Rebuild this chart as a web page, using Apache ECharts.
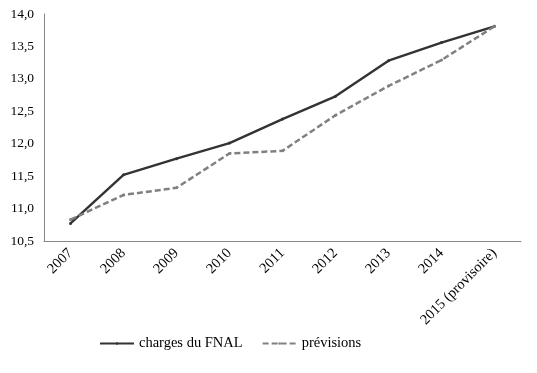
<!DOCTYPE html>
<html><head><meta charset="utf-8">
<script src="https://cdn.jsdelivr.net/npm/echarts@6/dist/echarts.min.js"></script>
<style>html,body{margin:0;padding:0;background:#fff}#c{width:537px;height:373px}</style>
</head><body><div id="c"></div>
<script>
const categories = ['2007','2008','2009','2010','2011','2012','2013','2014','2015 (provisoire)'];
const charges = [10.77, 11.52, 11.77, 12.01, 12.38, 12.73, 13.28, 13.56, 13.81];
const previsions = [10.83, 11.21, 11.32, 11.85, 11.89, 12.44, 12.89, 13.29, 13.81];
const seriesNames = ['charges du FNAL', 'prévisions'];
const font = 'Liberation Serif';
const chart = echarts.init(document.getElementById('c'), null, {renderer:'canvas'});
chart.setOption({
  animation:false,
  grid:{left:44, right:16, top:14, bottom:132, containLabel:false},
  legend:{
    left:94, top:331, itemWidth:34, itemHeight:3, itemGap:19,
    textStyle:{fontFamily:font, fontSize:14.5, color:'#000'},
    data:seriesNames
  },
  xAxis:{
    type:'category', data:categories, boundaryGap:true,
    axisLine:{lineStyle:{color:'#868686', width:1}},
    axisTick:{show:false},
    axisLabel:{rotate:45, interval:0, fontFamily:font, fontSize:14.5, color:'#000', margin:10}
  },
  yAxis:{
    type:'value', min:10.5, max:14, interval:0.5,
    axisLine:{show:true, lineStyle:{color:'#868686', width:1}},
    axisTick:{show:false},
    splitLine:{show:false},
    axisLabel:{fontFamily:font, fontSize:13.5, color:'#000', margin:10,
      formatter:v=>v.toFixed(1).replace('.',',')}
  },
  series:[
    {name:seriesNames[0], type:'line', data:charges, symbol:'circle', symbolSize:3,
     lineStyle:{color:'#333333', width:2.4}, itemStyle:{color:'#333333'}},
    {name:seriesNames[1], type:'line', data:previsions, symbol:'circle', symbolSize:3,
     lineStyle:{color:'#808080', width:2.5, type:[6,3]}, itemStyle:{color:'#808080'}}
  ]
});
</script></body></html>
